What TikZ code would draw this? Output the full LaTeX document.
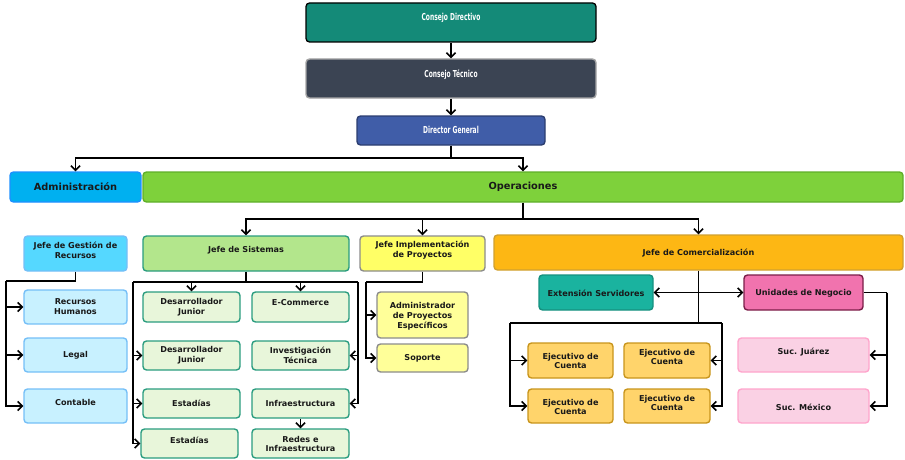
\documentclass[tikz,border=0pt]{standalone}
\usepackage{fontspec}
\usetikzlibrary{arrows.meta}
\newfontfamily\dvs{DejaVu Sans}
\newfontfamily\dvc[FakeStretch=0.62]{DejaVu Sans}
\definecolor{cdF}{HTML}{148A78}
\definecolor{ctF}{HTML}{3B4453}
\definecolor{dgF}{HTML}{405DA8}\definecolor{dgD}{HTML}{2C3E70}
\definecolor{admF}{HTML}{00B0F0}\definecolor{admD}{HTML}{1E90FF}
\definecolor{opF}{HTML}{7ED13B}\definecolor{opD}{HTML}{5FAF2A}
\definecolor{jgF}{HTML}{55D8FF}\definecolor{ltD}{HTML}{75BFF7}
\definecolor{ltF}{HTML}{C8F1FF}
\definecolor{jsF}{HTML}{B3E68C}\definecolor{sD}{HTML}{2A9C7F}
\definecolor{sF}{HTML}{E8F6DA}
\definecolor{jiF}{HTML}{FFFF66}\definecolor{iF}{HTML}{FFFF99}\definecolor{iD}{HTML}{8C8C8C}
\definecolor{jcF}{HTML}{FDB714}\definecolor{jcD}{HTML}{D0A030}
\definecolor{esF}{HTML}{1AB39F}\definecolor{esD}{HTML}{16907F}
\definecolor{unF}{HTML}{F173AE}\definecolor{unD}{HTML}{7A1D48}
\definecolor{suF}{HTML}{FAD1E4}\definecolor{suD}{HTML}{FFA5CC}
\definecolor{ecF}{HTML}{FFD46B}\definecolor{ecD}{HTML}{C8951C}
\newcommand\mybox[8]{%
  \node[#2, minimum width={#5-#3}, minimum height={#6-#4}] (#1) at ({(#3+#5)/2},{(#4+#6)/2}) {};
  \node[txt] (#1-t) at ({(#3+#5)/2},#7) {#8};}
\tikzset{
  bx/.style={rectangle, rounded corners=3.5pt, line width=1.4pt, inner sep=0pt},
  txt/.style={inner sep=0pt, align=center, font=\dvs\bfseries\fontsize{8.1}{9.8}\selectfont, text=black!90},
  toptxt/.style={txt, font=\dvc\bfseries\fontsize{9.6}{10}\selectfont, text=white},
  bigtxt/.style={txt, font=\dvs\bfseries\fontsize{9.8}{11}\selectfont},
  ln/.style={line width=1.8pt, black},
  tip/.style={},
  arr/.style={ln, -{Straight Barb[length=4.5pt,width=9pt,line width=1.6pt]}},
  arrb/.style={ln, {Straight Barb[length=4.5pt,width=9pt,line width=1.6pt]}-{Straight Barb[length=4.5pt,width=9pt,line width=1.6pt]}},
  cd/.style={bx, fill=cdF, draw=black, line width=1.3pt},
  ct/.style={bx, fill=ctF, draw=gray!70},
  dg/.style={bx, fill=dgF, draw=dgD},
  adm/.style={bx, fill=admF, draw=admD},
  op/.style={bx, fill=opF, draw=opD},
  jg/.style={bx, fill=jgF, draw=ltD},
  lt/.style={bx, fill=ltF, draw=ltD},
  js/.style={bx, fill=jsF, draw=sD},
  sc/.style={bx, fill=sF, draw=sD},
  ji/.style={bx, fill=jiF, draw=iD},
  ic/.style={bx, fill=iF, draw=iD},
  jc/.style={bx, fill=jcF, draw=jcD},
  es/.style={bx, fill=esF, draw=esD},
  un/.style={bx, fill=unF, draw=unD},
  su/.style={bx, fill=suF, draw=suD},
  ec/.style={bx, fill=ecF, draw=ecD},
}
\begin{document}
\begin{tikzpicture}[x=1pt,y=-1pt]
\useasboundingbox (0,0) rectangle (905,460);
% top
\mybox{cd}{cd}{306}{3}{596}{42}{18}{}
\node[toptxt] at (cd-t) {Consejo Directivo};
\mybox{ct}{ct}{306}{59}{596}{98}{75}{}
\node[toptxt] at (ct-t) {Consejo Técnico};
\mybox{dg}{dg}{357}{116}{545}{145}{130}{}
\node[toptxt] at (dg-t) {Director General};
\mybox{adm}{adm}{10}{172}{141}{202}{187}{}
\node[bigtxt] at (adm-t) {Administración};
\mybox{op}{op}{143}{172}{903}{202}{187}{}
\node[bigtxt] at (op-t) {Operaciones};
% admin
\mybox{jg}{jg}{24}{236}{127}{271}{250}{Jefe de Gestión de\\Recursos}
\mybox{rh}{lt}{24}{290}{127}{324}{307}{Recursos\\Humanos}
\mybox{lg}{lt}{24}{338}{127}{372}{355}{Legal}
\mybox{co}{lt}{24}{389}{127}{423}{402}{Contable}
% sistemas
\mybox{js}{js}{143}{236}{349}{271}{250}{Jefe de Sistemas}
\mybox{dja}{sc}{143}{292}{240}{322}{307}{Desarrollador\\Junior}
\mybox{ecm}{sc}{252}{292}{349}{322}{303}{E-Commerce}
\mybox{djb}{sc}{143}{341}{240}{370}{355.5}{Desarrollador\\Junior}
\mybox{inv}{sc}{252}{341}{349}{370}{355.5}{Investigación\\Técnica}
\mybox{esa}{sc}{143}{389}{240}{418}{403}{Estadías}
\mybox{inf}{sc}{252}{389}{349}{418}{403}{Infraestructura}
\mybox{esb}{sc}{141}{429}{238}{458}{440}{Estadías}
\mybox{red}{sc}{252}{429}{349}{458}{444}{Redes e\\Infraestructura}
% implementacion
\mybox{ji}{ji}{360}{236}{485}{271}{250}{Jefe Implementación\\de Proyectos}
\mybox{ap}{ic}{377}{292}{468}{338}{316}{Administrador\\de Proyectos\\Específicos}
\mybox{so}{ic}{377}{344}{468}{372}{358}{Soporte}
% comercializacion
\mybox{jc}{jc}{494}{235}{903}{270}{253}{Jefe de Comercialización}
\mybox{es}{es}{539}{275}{653}{310}{293}{Extensión Servidores}
\mybox{un}{un}{744}{275}{863}{310}{293}{Unidades de Negocio}
\mybox{eca}{ec}{528}{343}{613}{378}{361}{Ejecutivo de\\Cuenta}
\mybox{ecb}{ec}{624}{343}{710}{378}{357}{Ejecutivo de\\Cuenta}
\mybox{ecc}{ec}{528}{389}{613}{423}{407}{Ejecutivo de\\Cuenta}
\mybox{ecd}{ec}{624}{389}{710}{423}{403}{Ejecutivo de\\Cuenta}
\mybox{sj}{su}{738}{338}{869}{372}{352}{Suc. Juárez}
\mybox{sm}{su}{738}{389}{869}{423}{407}{Suc. México}
% bus coordinates
\coordinate (tb) at (451,158);
\coordinate (ob) at (523,219);
\coordinate (ga) at (6,281);
\coordinate (sl) at (133,282);
\coordinate (sr) at (358,282);
\coordinate (il) at (366,282);
\coordinate (cl) at (510,323);
\coordinate (cr) at (722,323);
\coordinate (ur) at (887,292.5);
% connectors
\draw[arr] (cd) -- (ct);
\draw[arr] (ct) -- (dg);
\draw[ln] (dg.south) -- (tb);
\draw[arr] (tb) -| (adm.north);
\draw[arr] (tb) -| (op.north);
\draw[ln] (op.south) -- (ob);
\draw[arr] (ob) -| (js.north);
\draw[arr] (ob) -| (ji.north);
\draw[arr] (ob) -| (jc.north);
\draw[ln] (jg.south) |- (ga);
\draw[arr] (ga) |- (rh.west);
\draw[arr] (ga) |- (lg.west);
\draw[arr] (ga) |- (co.west);
\draw[ln] (js.south) -- (js.south |- sl);
\draw[ln] (sl) -- (sr);
\draw[arr] (dja.north |- sl) -- (dja.north);
\draw[arr] (ecm.north |- sl) -- (ecm.north);
\draw[arr] (sl) |- (djb.west);
\draw[arr] (sl) |- (esa.west);
\draw[arr] (sl) |- (esb.west);
\draw[arr] (sr) |- (inv.east);
\draw[arr] (sr) |- (inf.east);
\draw[arr] (inf) -- (red);
\draw[ln] (ji.south) |- (il);
\draw[arr] (il) |- (ap.west);
\draw[arr] (il) |- (so.west);
\draw[ln] (jc.south) -- (jc.south |- cl);
\draw[ln] (cl) -- (cr);
\draw[arr] (cl) |- (eca.west);
\draw[arr] (cl) |- (ecc.west);
\draw[arr] (cr) |- (ecb.east);
\draw[arr] (cr) |- (ecd.east);
\draw[arrb] (es.east) -- (un.west);
\draw[ln] (un.east) -- (ur);
\draw[arr] (ur) |- (sj.east);
\draw[arr] (ur) |- (sm.east);
\end{tikzpicture}
\end{document}
